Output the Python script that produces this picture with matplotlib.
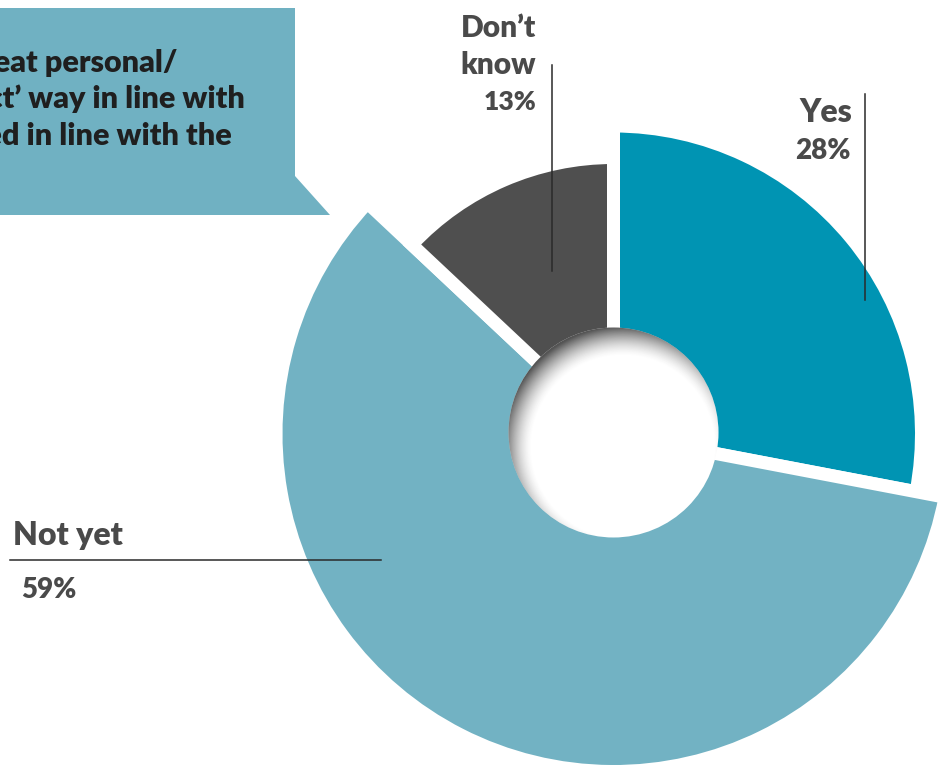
import numpy as np
import matplotlib
matplotlib.use("Agg")
import matplotlib.pyplot as plt
from matplotlib.patches import Circle, Polygon

plt.rcParams["font.family"] = ["Lato", "DejaVu Sans"]

W, H = 941, 766

# survey answers
categories = ["Yes", "Not yet", "Don’t know"]
shares = [28, 59, 13]
share_labels = ["28%", "59%", "13%"]
name_lines = [["Yes"], ["Not yet"], ["Don’t", "know"]]

colors = ["#0094b3", "#72b2c3", "#4f4f4f"]
outer_radius = [301.5, 331, 270]

question_lines = [
    "Does your organisation treat personal/",
    "sensitive data in the ‘correct’ way in line with",
    "GDPR, i.e. is it processed in line with the",
]

WEIGHT = "heavy"

fig = plt.figure(figsize=(W / 100, H / 100), dpi=100)
ax = fig.add_axes([0, 0, 1, 1])

# donut: every slice has its own outer radius, white strokes give the gaps
cx, cy = 613.5, H - 434
gap = 13
hole_r = 105
wedges, _ = ax.pie(
    shares, colors=colors, startangle=90, counterclock=False,
    center=(cx, cy), radius=1,
    wedgeprops=dict(edgecolor="white", linewidth=gap * 72 / 100, joinstyle="miter"),
)
for w, r in zip(wedges, outer_radius):
    w.set_radius(r + gap / 2)
    w.set_width(r + gap / 2 - 80)

# centre hole with a soft inner shadow cast from the upper left
hx, hy = cx, cy + 1.5
hole = Circle((hx, hy), hole_r, facecolor="white", edgecolor="none", zorder=3)
ax.add_patch(hole)
n = 2 * hole_r * 2
xs = np.linspace(hx - hole_r, hx + hole_r, n)
ys = np.linspace(hy - hole_r, hy + hole_r, n)
X, Y = np.meshgrid(xs, ys)
lit_cx, lit_cy, lit_r = hx + 10, hy - 15, hole_r - 14
d = np.hypot(X - lit_cx, Y - lit_cy) - lit_r
alpha = 0.8 * np.clip(d / 30.0, 0, 1) ** 1.6
img = np.zeros((n, n, 4))
img[..., :3] = 0.16
img[..., 3] = alpha
im = ax.imshow(img, extent=(hx - hole_r, hx + hole_r, hy - hole_r, hy + hole_r),
               origin="lower", interpolation="bilinear", zorder=4)
clip = Circle((hx, hy), hole_r, transform=ax.transData)
im.set_clip_path(clip)

# question call-out box
box = Polygon([(0, H - 8), (295, H - 8), (295, H - 176), (330, H - 215), (0, H - 215)],
              closed=True, facecolor="#70b1c2", edgecolor="none", zorder=1)
ax.add_patch(box)
for line, xr, yb in zip(question_lines, [178, 245, 232], [72, 108, 145.5]):
    ax.text(xr, H - yb, line, ha="right", va="baseline", fontsize=22,
            fontweight=WEIGHT, color="#1f1f1f", zorder=2)

label_color = "#4a4a4a"
leader_color = "#2a2a2a"

# Yes
ax.text(852, H - 122, name_lines[0][0], ha="right", va="baseline", fontsize=23,
        fontweight=WEIGHT, color=label_color, zorder=5)
ax.text(851, H - 159, share_labels[0], ha="right", va="baseline", fontsize=20,
        fontweight=WEIGHT, color=label_color, zorder=5)
ax.plot([865, 865], [H - 94, H - 300], color=leader_color, lw=1.1, zorder=5)

# Not yet
ax.text(13, H - 545, name_lines[1][0], ha="left", va="baseline", fontsize=23,
        fontweight=WEIGHT, color=label_color, zorder=5)
ax.text(21, H - 598, share_labels[1], ha="left", va="baseline", fontsize=20,
        fontweight=WEIGHT, color=label_color, zorder=5)
ax.plot([10, 381], [H - 560, H - 560], color=leader_color, lw=1.1, zorder=5)

# Don't know
for line, yb in zip(name_lines[2], [37, 74]):
    ax.text(536, H - yb, line, ha="right", va="baseline", fontsize=21.5,
            fontweight=WEIGHT, color=label_color, zorder=5)
ax.text(536, H - 110.5, share_labels[2], ha="right", va="baseline", fontsize=19,
        fontweight=WEIGHT, color=label_color, zorder=5)
ax.plot([552, 552], [H - 65, H - 271], color=leader_color, lw=1.1, zorder=5)

ax.set_xlim(0, W)
ax.set_ylim(0, H)
ax.set_aspect("equal")
ax.axis("off")

fig.savefig("out.png", dpi=100)
